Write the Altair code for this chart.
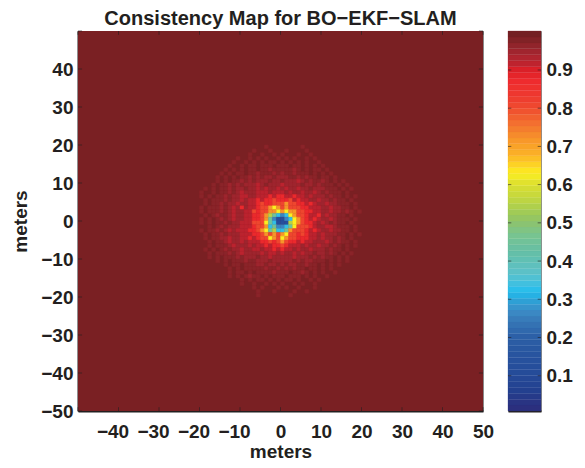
import altair as alt
import pandas as pd

STOPS = [0.0076,0.02,0.06,0.1,0.15,0.2,0.24,0.27,0.30,0.32,0.34,0.37,0.42,0.47,0.5,0.52,0.56,0.6,0.63,0.65,0.68,0.72,0.76,0.8,0.83,0.87,0.9,0.91,0.94,0.97,0.985,1.002]
COLORS = ["#2b2f7e","#2b2f7e","#23408f","#254a98","#27539e","#2c5fa6","#3676b6","#3c8cc6","#2ba4d8","#22bdee","#3fc0e0","#5cc1c9","#64bfa9","#79c48f","#8cc36f","#9ac85b","#bed542","#dbdf30","#fcee21","#fdd525","#fbb027","#f7942a","#f37030","#ef4c2f","#ee3a2f","#ee2b2e","#dd2027","#c4222e","#a82630","#8a2429","#7a2023","#6d1f22"]

CODE = {"B":0.13,"b":0.26,"c":0.33,"g":0.45,"l":0.55,"y":0.63,"o":0.72,"r":0.81,"R":0.875,"d":0.92,"e":0.95,"f":0.97,".":0.985}

# each row: cells read outward from x=0 to the left, and outward from x=0 to the right; top row is y=20
ROWS = [
("...f................",".....f.............."),
("..f...f.............",".f....f............."),
(".f..f..f............","f...f..f............"),
("f..f.f.f..f.........",".f.f..f.f..........."),
(".ff.f.f.f..f........","f.f.f.f..f.........."),
("f.fff.ff.f..f.......","ff.ff.f.f.f........."),
("ffeff.ff.f.f.f......","fffef.f.ff.f........"),
("fefffeff.ff.f.f.....","effefff.f.f.f......."),
("efeefefeff.f.f.f....","eeffefeff.ff.f......"),
("eefeeefefeff.f.f....","feeedefeffef.f.f...."),
("eeefedeeefefeff.f...","deeeefeefefff.f.f..."),
("deededeefeefeff.f.f.","edeedeefeeefff.f.f.."),
("ddedddeeedefeff.f..f","dedeedeedefefff.f..."),
("RdRdddeeddeefeff.f.f","RddRddedeeefeff.f.f."),
("RrRRdRddedeefefff.f.","RRrdRddeedeefeff.f.."),
("rrRRrRddeedeefeff.f.","rorrRRdRdeedeefff.f."),
("oyorrRddeRedefefff.f","rorrrRRdddeedeeff.f."),
("yoorrRrddeedefefff.f","oyoorrRRddeedeefef.f"),
("cglorRRddeedeffef.f.","bcyorrRddRedeeff.f.."),
("BbgorRRddeedefef.f.f","BbcyorRdRdeedefff.f."),
("Bcgyrrrdddeefeff.f.f","BBlyorRRdedefeff.f.."),
("bgcorrRdddeeefef.f..","bcgyrrrRdeeddefff.f."),
("clgyorRRdddedefeff.f","cgorrrRdRdeedeeff.f."),
("rororRRdddeeefeff.f.","oyrrRrRddedeeeff.f.f"),
("royrrRdRddeedeeff.f.","yorrRRRddedeefef.f.."),
("rRrRRdddedeedeff.f..","orRRdRddeeedefeff.f."),
("RRdRddedeeedefff.f..","rRdddedeedeefef.f.f."),
("dRddeddeedeefef.f.f.","Rddedeedeeefeff.f..."),
("eddedeeeedefefff.f..","deededeefeefef.f.f.."),
("eedeefeeefefff.f.f..","eeedeeefefeff.f.f..."),
("eefeeeffefff.f.f....","eeefefeefff.f.f.f..."),
("feefeefff.ff.f......","efeeffeff.f.f.f....."),
("effefffff.f.f.......","fefeff.ff.f.f......."),
("feffff.f.ff.f.......","ff.ffef.f.f..f......"),
("ff.f.ffef.f.f.......","f.fff.f.f..f........"),
("f.f.ff.f.f..........",".ff.f..f.f.........."),
(".f.f..f..f..........","f..f.f..f..........."),
("f...f.f.............",".f..f...f..........."),
(".f...f..............","...f..f............."),
(".....f..............","..f................."),
]

X_LABELS = [-40,-30,-20,-10,0,10,20,30,40,50]
X_TICKS = [-50] + X_LABELS
Y_LABELS = [-50,-40,-30,-20,-10,0,10,20,30,40]
Y_TICKS = Y_LABELS + [50]
CB_TICKS = [0.1,0.2,0.3,0.4,0.5,0.6,0.7,0.8,0.9]
BACKGROUND = 0.985
LO, HI = 0.0076, 1.002
N_BANDS = 64

FONT = "Liberation Sans"
INK = "#231f20"
FS = 19

cells = []
for i, (left, right) in enumerate(ROWS):
    row = left[::-1].rjust(20, ".")[-20:] + right.ljust(20, ".")[:20]
    for j, ch in enumerate(row):
        if ch != ".":
            cells.append({"x": j - 20, "x2": j - 19, "y": 20 - i, "y2": 19 - i, "v": CODE[ch]})
cells = pd.DataFrame(cells)

color = alt.Scale(domain=STOPS, range=COLORS, interpolate="rgb")
xs = alt.Scale(domain=[-50, 50], nice=False, zero=False)
ys = alt.Scale(domain=[-50, 50], nice=False, zero=False)

x_axis = alt.Axis(values=X_LABELS, title="meters", labelExpr="replace(format(datum.value,'d'),'-','\u2212')", grid=False, ticks=False,
                  labelFontSize=FS, labelFont=FONT, labelFontWeight="bold", labelColor=INK, labelPadding=11,
                  labelOffset={"condition": {"test": "datum.value < 0", "value": -6}, "value": 0},
                  titleFontSize=FS, titleFont=FONT, titleFontWeight="bold", titleColor=INK, titlePadding=1,
                  domainColor=INK, domainWidth=2, labelFlush=False, labelOverlap=False)
y_axis = alt.Axis(values=Y_LABELS, title="meters", labelExpr="replace(format(datum.value,'d'),'-','\u2212')", grid=False, ticks=False,
                  labelFontSize=FS, labelFont=FONT, labelFontWeight="bold", labelColor=INK, labelPadding=5,
                  titleFontSize=FS, titleFont=FONT, titleFontWeight="bold", titleColor=INK, titlePadding=10,
                  domainColor=INK, domainWidth=2, labelOverlap=False)

bg = alt.Chart(pd.DataFrame({"x": [-50], "x2": [50], "y": [-50], "y2": [50], "v": [BACKGROUND]})).mark_rect().encode(
    x=alt.X("x:Q", scale=xs, axis=x_axis), x2="x2:Q",
    y=alt.Y("y:Q", scale=ys, axis=y_axis), y2="y2:Q",
    color=alt.Color("v:Q", scale=color, legend=None))
heat = alt.Chart(cells).mark_rect(strokeWidth=0.4).encode(
    x="x:Q", x2="x2:Q", y="y:Q", y2="y2:Q",
    color=alt.Color("v:Q", scale=color, legend=None),
    stroke=alt.Color("v:Q", scale=color, legend=None))

tx = pd.DataFrame({"t": X_TICKS})
ty = pd.DataFrame({"t": Y_TICKS})
tx["a"], tx["b"], tx["c"], tx["d"] = -50, -49, 50, 49
ty["a"], ty["b"], ty["c"], ty["d"] = -50, -49, 50, 49
tick_style = dict(color=INK, strokeWidth=0.8, opacity=0.75)
ticks = [
    alt.Chart(tx).mark_rule(**tick_style).encode(x="t:Q", y="a:Q", y2="b:Q"),
    alt.Chart(tx).mark_rule(**tick_style).encode(x="t:Q", y="c:Q", y2="d:Q"),
    alt.Chart(ty).mark_rule(**tick_style).encode(y="t:Q", x="a:Q", x2="b:Q"),
    alt.Chart(ty).mark_rule(**tick_style).encode(y="t:Q", x="c:Q", x2="d:Q"),
]
main = alt.layer(bg, heat, *ticks).properties(
    width=405, height=380,
    title=alt.TitleParams("Consistency Map for BO\u2212EKF\u2212SLAM", font=FONT, fontSize=20, fontWeight="bold", color=INK, offset=0, dy=-2))

step = (HI - LO) / N_BANDS
bands = pd.DataFrame([{"a": LO + k * step, "b": LO + (k + 1) * step, "m": LO + (k + 0.5) * step, "u": 0, "w": 1} for k in range(N_BANDS)])
cb_y = alt.Scale(domain=[LO, HI], nice=False, zero=False)
cb = alt.Chart(bands).mark_rect(strokeWidth=0.3).encode(
    x=alt.X("u:Q", scale=alt.Scale(domain=[0, 1], nice=False), axis=alt.Axis(domain=True, domainColor=INK, domainWidth=2, ticks=False, labels=False, title=None, grid=False)),
    x2="w:Q",
    y=alt.Y("a:Q", scale=cb_y, axis=alt.Axis(orient="right", values=CB_TICKS, format=".1f", title=None, grid=False, ticks=False,
            labelFontSize=FS, labelFont=FONT, labelFontWeight="bold", labelColor=INK, labelPadding=5, domain=False)),
    y2="b:Q",
    color=alt.Color("m:Q", scale=color, legend=None),
    stroke=alt.Color("m:Q", scale=color, legend=None))
tc = pd.DataFrame({"t": CB_TICKS})
tc["a"], tc["b"], tc["c"], tc["d"] = 0, 0.1, 1, 0.9
cb_ticks = [
    alt.Chart(tc).mark_rule(**tick_style).encode(y="t:Q", x="a:Q", x2="b:Q"),
    alt.Chart(tc).mark_rule(**tick_style).encode(y="t:Q", x="c:Q", x2="d:Q"),
]
bar = alt.layer(cb, *cb_ticks).properties(width=33, height=380)

chart = alt.hconcat(main, bar, spacing=12).resolve_scale(color="shared").configure_view(stroke="#8a8a8a", strokeWidth=1).properties(
    padding={"left": 3, "top": 0, "right": 0, "bottom": 0}, background="white")
chart.save("out.html", embed_options={"renderer": "svg", "actions": False})
